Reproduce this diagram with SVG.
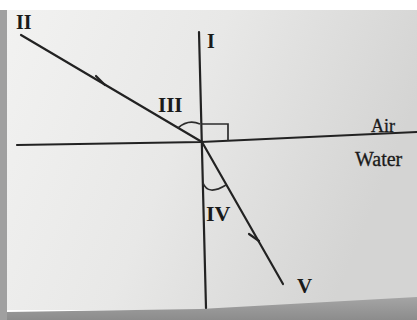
<svg xmlns="http://www.w3.org/2000/svg" width="417" height="320" viewBox="0 0 417 320">
  <defs>
    <linearGradient id="paper" x1="0" y1="0" x2="1" y2="0.3">
      <stop offset="0" stop-color="#f2f2f1"/>
      <stop offset="0.5" stop-color="#e8e8e7"/>
      <stop offset="1" stop-color="#d4d4d3"/>
    </linearGradient>
    <linearGradient id="band" x1="0" y1="0" x2="0" y2="1">
      <stop offset="0" stop-color="#a5a5a5"/>
      <stop offset="1" stop-color="#8c8c8c"/>
    </linearGradient>
    <style>
      .ray { stroke: #222222; stroke-width: 2.2; fill: none; stroke-linecap: round; }
      .thin { stroke: #2c2c2c; stroke-width: 1.7; fill: none; }
      .num { font-family: "Liberation Serif", serif; font-weight: bold; fill: #1a1a1a; }
      .med { font-family: "Liberation Serif", serif; fill: #1a1a1a; stroke: #1a1a1a; stroke-width: 0.3; }
    </style>
  </defs>

  <!-- photo background -->
  <rect x="0" y="0" width="417" height="320" fill="#ffffff"/>
  <rect x="7" y="10" width="410" height="300" fill="url(#paper)"/>
  <rect x="0" y="10" width="7" height="310" fill="#a0a0a0"/>
  <path d="M7,312 L200,309 L417,297 L417,320 L7,320 Z" fill="url(#band)"/>

  <!-- rays and lines -->
  <g id="connectors">
    <path id="interface" class="ray" d="M17,145 L201,142 L417,132"/>
    <line id="normal" class="ray" x1="199" y1="32" x2="206" y2="308"/>
    <line id="incident-ray" class="ray" x1="21" y1="35" x2="202" y2="142"/>
    <path id="incident-arrow" class="ray" d="M105,85 L96,76"/>
    <line id="refracted-ray" class="ray" x1="202" y1="142" x2="283" y2="284"/>
    <path id="refracted-arrow" class="ray" d="M259,241 L249,234"/>
    <path id="right-angle" class="thin" d="M201,124 L228,124 L228,141"/>
    <path id="angle-III" class="thin" d="M178,128 Q188,119 200,124"/>
    <path id="angle-IV" class="thin" d="M203,183 Q208,196 226,185"/>
  </g>

  <!-- labels -->
  <g id="label-II"><text class="num" x="16" y="29" font-size="20">II</text></g>
  <g id="label-I"><text class="num" x="207" y="48" font-size="20">I</text></g>
  <g id="label-III"><text class="num" x="158" y="112" font-size="21">III</text></g>
  <g id="label-IV"><text class="num" x="206" y="221" font-size="22">IV</text></g>
  <g id="label-V"><text class="num" x="297" y="293" font-size="21">V</text></g>
  <g id="label-Air"><text class="med" x="371" y="132" font-size="18">Air</text></g>
  <g id="label-Water"><text class="med" x="355" y="166" font-size="20">Water</text></g>
</svg>
